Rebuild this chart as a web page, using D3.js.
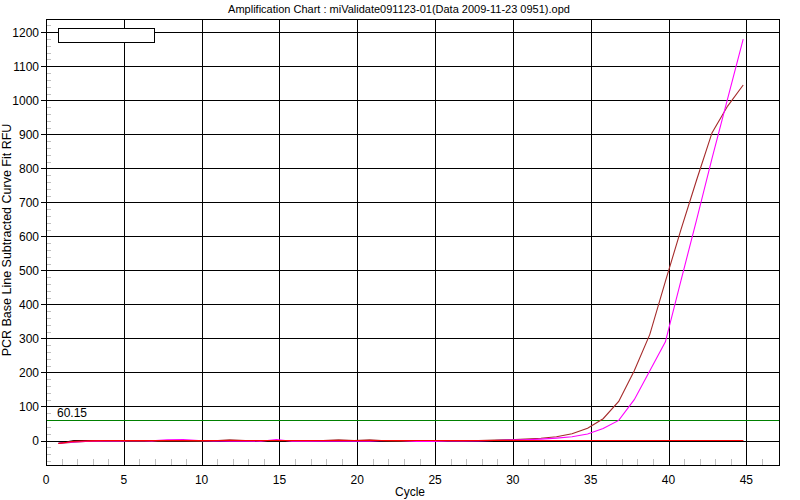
<!DOCTYPE html>
<html>
<head>
<meta charset="utf-8">
<script src="https://cdn.jsdelivr.net/npm/d3@7"></script>
<style>
  html, body { margin: 0; padding: 0; background: #ffffff; }
  svg { display: block; }
  text { font-family: "Liberation Sans", Arial, sans-serif; fill: #000; }
</style>
</head>
<body>
<svg id="chart" width="800" height="500"></svg>
<script>
const titleText = "Amplification Chart : miValidate091123-01(Data 2009-11-23 0951).opd";
const xLabel = "Cycle";
const yLabel = "PCR Base Line Subtracted Curve Fit RFU";
const xTicks = [0, 5, 10, 15, 20, 25, 30, 35, 40, 45];
const yTicks = [0, 100, 200, 300, 400, 500, 600, 700, 800, 900, 1000, 1100, 1200];
const threshold = 60.15;
const thresholdLabel = "60.15";

const cycles = [0.8, 1.8, 2.8, 3.8, 4.8, 5.8, 6.8, 7.8, 8.8, 9.8,
  10.8, 11.8, 12.8, 13.8, 14.8, 15.8, 16.8, 17.8, 18.8, 19.8,
  20.8, 21.8, 22.8, 23.8, 24.8, 25.8, 26.8, 27.8, 28.8, 29.8,
  30.8, 31.8, 32.8, 33.8, 34.8, 35.8, 36.8, 37.8, 38.8, 39.8,
  40.8, 41.8, 42.8, 43.8, 44.8];

const blackWell = [-8, 0, 0, 0, 0, 0, 0, 0, 0, 0,
  0, 0, 0, 0, 0, 0, 0, 0, 0, 0,
  0, -2, -2, 0, 0, 0, 0, 0, 0, 1,
  0, 0, 0, 0, -2, 0, 0, 0, 0, -2,
  0, 0, 0, 0, 0];

const brownWell = [-9, -5, -2, -1, -2, -2, -2, -1, -1, -2,
  -1, 2, 0, -1, 0, -1, -1, 0, 2, 0,
  2, -1, -2, -1, -2, -1, -1, 0, 1, 2,
  4, 6.5, 11, 20, 36, 64, 115, 205, 312, 468,
  620, 765, 905, 983, 1045];

const magentaWell = [-8, -4, -2, -1, -1, 0, -1, 2, 3, 0,
  -1, -2, -1, -2, 3, -2, -2, -1, -2, -1,
  -2, 0, 0, -3, -3, -1, -1, -1, 0, 1,
  2, 4, 7, 11, 19, 35, 59, 120, 205, 290,
  470, 648, 830, 1005, 1180];

const redWell = [-9, -2, -1, 0, 0, 0, 0, 0, 0, 0,
  0, 0, 0, 0, 0, 0, 0, 0, 0, 0,
  0, 0, 0, 0, 0, 0, 0, 0, 0, 0,
  0, 0, 0, 0, 0, 0, 0, 0, 0, 0,
  0, 0, 0, 0, 0];

const seriesList = [
  { name: "black", values: blackWell, color: "#000000" },
  { name: "brown", values: brownWell, color: "#a52a2a" },
  { name: "magenta", values: magentaWell, color: "#ff00ff" },
  { name: "red", values: redWell, color: "#ff0000" }
];

const svg = d3.select("#chart");
const plot = { left: 46, right: 779, top: 19, bottom: 465 };

const x = d3.scaleLinear().domain([0, 47.1]).range([plot.left, plot.right]);
const y = d3.scaleLinear().domain([-72, 1239]).range([plot.bottom, plot.top]);

// title
svg.append("text")
  .attr("x", 399).attr("y", 13)
  .attr("text-anchor", "middle")
  .style("font-size", "11px")
  .text(titleText);

const g = svg.append("g");

// minor y ticks (gray, inside)
const yMinor = d3.range(-60, 1240, 20).filter(v => v % 100 !== 0);
g.selectAll("line.ymin").data(yMinor).enter().append("line")
  .attr("x1", plot.left).attr("x2", plot.left + 5)
  .attr("y1", d => Math.round(y(d)) + 0.5).attr("y2", d => Math.round(y(d)) + 0.5)
  .attr("stroke", "#c0c0c0").attr("stroke-width", 1);

// minor x ticks
const xMinor = d3.range(1, 47, 1).filter(v => v % 5 !== 0);
g.selectAll("line.xmin").data(xMinor).enter().append("line")
  .attr("x1", d => Math.round(x(d)) + 0.5).attr("x2", d => Math.round(x(d)) + 0.5)
  .attr("y1", plot.bottom - 6).attr("y2", plot.bottom)
  .attr("stroke", "#c0c0c0").attr("stroke-width", 1);

// grid lines
g.selectAll("line.hgrid").data(yTicks).enter().append("line")
  .attr("x1", plot.left - 5).attr("x2", plot.right)
  .attr("y1", d => Math.round(y(d)) + 0.5).attr("y2", d => Math.round(y(d)) + 0.5)
  .attr("stroke", "#000").attr("stroke-width", 1);
g.selectAll("line.vgrid").data(xTicks.filter(d => d > 0)).enter().append("line")
  .attr("x1", d => Math.round(x(d)) + 0.5).attr("x2", d => Math.round(x(d)) + 0.5)
  .attr("y1", plot.top).attr("y2", plot.bottom)
  .attr("stroke", "#000").attr("stroke-width", 1);

// tick labels
g.selectAll("text.ylab").data(yTicks).enter().append("text")
  .attr("x", 39).attr("y", d => y(d) + 4.5)
  .attr("text-anchor", "end")
  .style("font-size", "12px")
  .text(d => d);
g.selectAll("text.xlab").data(xTicks).enter().append("text")
  .attr("x", d => x(d)).attr("y", 484)
  .attr("text-anchor", "middle")
  .style("font-size", "12px")
  .text(d => d);

// axis titles
svg.append("text")
  .attr("x", 410).attr("y", 496)
  .attr("text-anchor", "middle")
  .style("font-size", "12px")
  .text(xLabel);
svg.append("text")
  .attr("transform", "translate(11,240) rotate(-90)")
  .attr("text-anchor", "middle")
  .style("font-size", "12.5px")
  .text(yLabel);

// threshold
g.append("line")
  .attr("x1", plot.left).attr("x2", plot.right)
  .attr("y1", Math.round(y(threshold)) + 0.5).attr("y2", Math.round(y(threshold)) + 0.5)
  .attr("stroke", "#008000").attr("stroke-width", 1);
g.append("text")
  .attr("x", 57).attr("y", y(threshold) - 3)
  .style("font-size", "12px")
  .text(thresholdLabel);

// curves
const line = d3.line()
  .x((d, i) => x(cycles[i]))
  .y(d => y(d));
g.selectAll("path.well").data(seriesList).enter().append("path")
  .attr("d", s => line(s.values))
  .attr("fill", "none")
  .attr("stroke", s => s.color)
  .attr("stroke-width", 1.1);

// plot border
g.append("rect")
  .attr("x", plot.left + 0.5).attr("y", plot.top + 0.5)
  .attr("width", plot.right - plot.left).attr("height", plot.bottom - plot.top)
  .attr("fill", "none").attr("stroke", "#000").attr("stroke-width", 1);

// legend box (empty)
g.append("rect")
  .attr("x", 58.5).attr("y", 28.5)
  .attr("width", 96).attr("height", 14)
  .attr("fill", "#fff").attr("stroke", "#000").attr("stroke-width", 1);
</script>
</body>
</html>
